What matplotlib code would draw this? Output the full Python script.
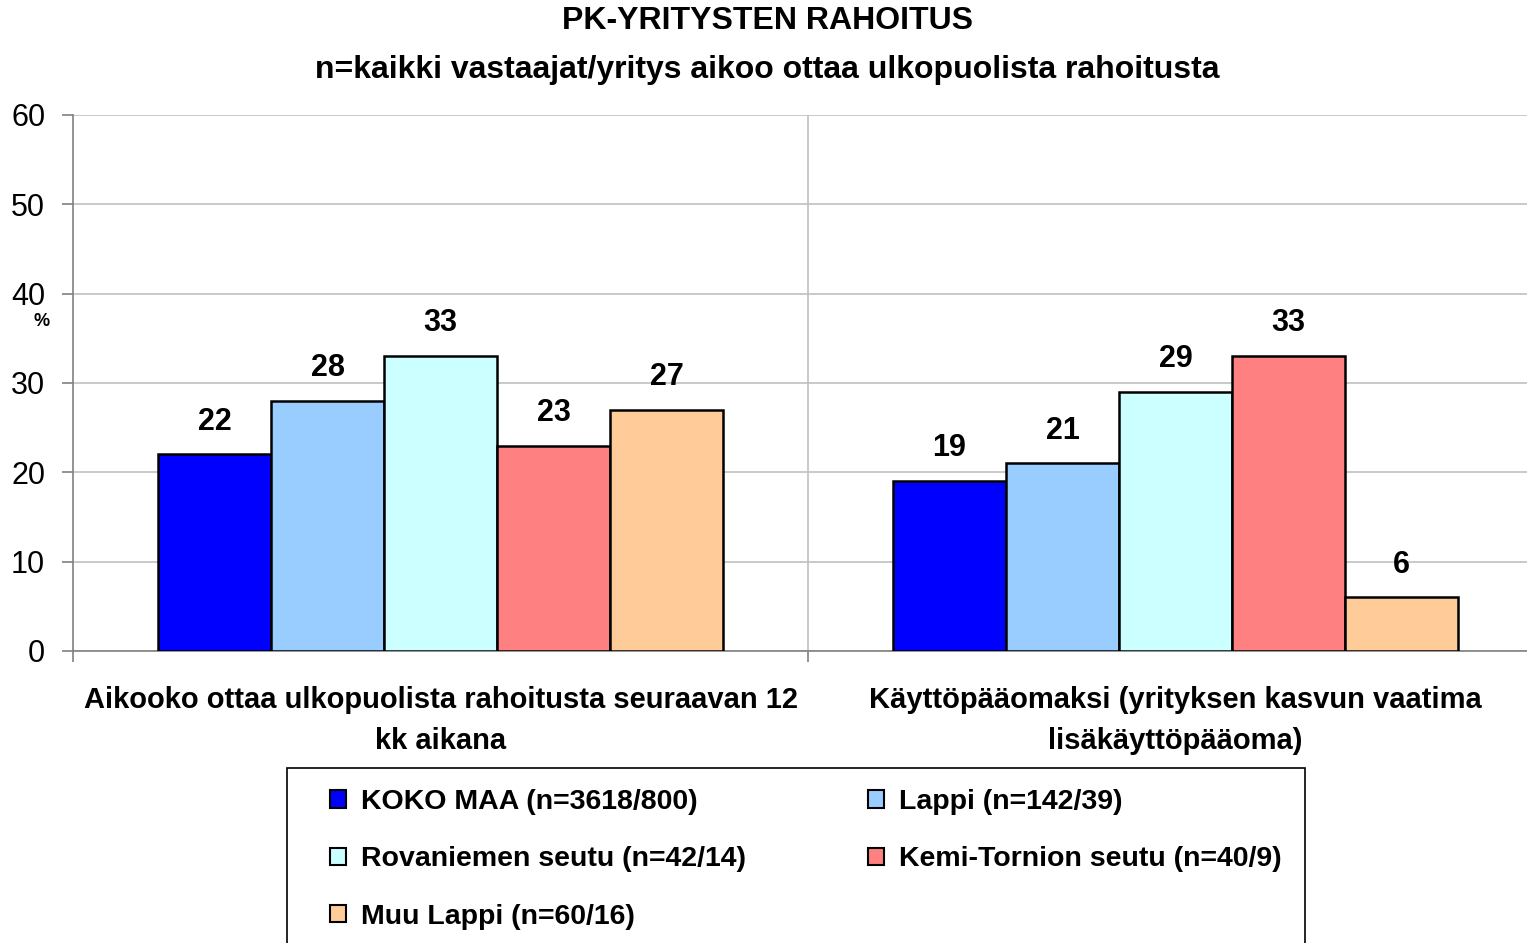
import numpy as np
import matplotlib
matplotlib.use("Agg")
import matplotlib.pyplot as plt
from matplotlib.patches import Rectangle

plt.rcParams['font.family'] = ['Liberation Sans', 'DejaVu Sans']

# data
categories = ["Aikooko ottaa ulkopuolista rahoitusta seuraavan 12\nkk aikana",
              "Käyttöpääomaksi (yrityksen kasvun vaatima\nlisäkäyttöpääoma)"]
series_names = ["KOKO MAA (n=3618/800)", "Lappi (n=142/39)",
                "Rovaniemen seutu (n=42/14)", "Kemi-Tornion seutu (n=40/9)",
                "Muu Lappi (n=60/16)"]
values = {
    "KOKO MAA (n=3618/800)": [22, 19],
    "Lappi (n=142/39)": [28, 21],
    "Rovaniemen seutu (n=42/14)": [33, 29],
    "Kemi-Tornion seutu (n=40/9)": [23, 33],
    "Muu Lappi (n=60/16)": [27, 6],
}
colors = ["#0000FF", "#99CCFF", "#CCFFFF", "#FF8080", "#FFCC99"]
yticks = [0, 10, 20, 30, 40, 50, 60]

W, H = 1527, 943
fig = plt.figure(figsize=(W / 100, H / 100), dpi=100)
# axes runs past the right edge like in the original
ax = fig.add_axes([73 / W, 1 - 651 / H, (1543 - 73) / W, (651 - 115) / H])

x = np.arange(len(categories))
bw = 113 / 735
handles = []
for i, name in enumerate(series_names):
    pos = x + (i - 2) * bw
    bars = ax.bar(pos, values[name], width=bw, color=colors[i],
                  edgecolor="black", linewidth=1.8, label=name, zorder=3)
    handles.append(bars)
    for b, v in zip(bars, values[name]):
        ax.text(b.get_x() + b.get_width() / 2, v + 2.0, str(v),
                ha="center", va="bottom", fontsize=22, fontweight="bold")

ax.set_xlim(-0.5, 1.5)
ax.set_ylim(0, 60)
ax.set_yticks(yticks)
ax.yaxis.grid(True, color="#c0c0c0", linewidth=1.2, zorder=0)
ax.axvline(0.5, color="#c0c0c0", linewidth=1.2, zorder=0)

ax.set_xticks(x)
ax.set_xticklabels(categories, fontsize=21, fontweight="bold", linespacing=1.6)
ax.set_xticks([-0.5, 0.5, 1.5], minor=True)
ax.tick_params(axis="x", which="major", length=0, pad=25)
ax.tick_params(axis="x", which="minor", length=8, color="#808080", width=1.2)
ax.tick_params(axis="y", length=8, color="#808080", width=1.2, labelsize=22, pad=12)

for s in ["top", "right"]:
    ax.spines[s].set_visible(False)
for s in ["left", "bottom"]:
    ax.spines[s].set_color("#808080")
    ax.spines[s].set_linewidth(1.2)

fig.text(42 / W, 1 - 321 / H, "%", ha="center", va="center",
         fontsize=13, fontweight="bold")

fig.text(767 / W, 1 - 21 / H, "PK-YRITYSTEN RAHOITUS", ha="center",
         va="center", fontsize=23, fontweight="bold")
fig.text(767 / W, 1 - 70 / H,
         "n=kaikki vastaajat/yritys aikoo ottaa ulkopuolista rahoitusta",
         ha="center", va="center", fontsize=23, fontweight="bold")

# legend frame (bottom runs off the picture)
fig.patches.append(Rectangle((287 / W, -0.05), (1305 - 287) / W, (943 - 768) / H + 0.05,
                             transform=fig.transFigure, facecolor="none",
                             edgecolor="black", linewidth=1.2))
order = [0, 2, 4, 1, 3]
leg = fig.legend([handles[k] for k in order], [series_names[k] for k in order],
                 loc="upper left", mode="expand",
                 bbox_to_anchor=(330 / W, 1 - 789 / H, (1282 - 330) / W, 0),
                 ncol=2, fontsize=20.5, frameon=False,
                 handlelength=0.55, handleheight=0.55,
                 handletextpad=0.55, labelspacing=1.1,
                 borderpad=0, borderaxespad=0)
for t in leg.get_texts():
    t.set_fontweight("bold")
for h in leg.legend_handles:
    h.set_linewidth(1.5)

fig.savefig("out.png", dpi=100)
